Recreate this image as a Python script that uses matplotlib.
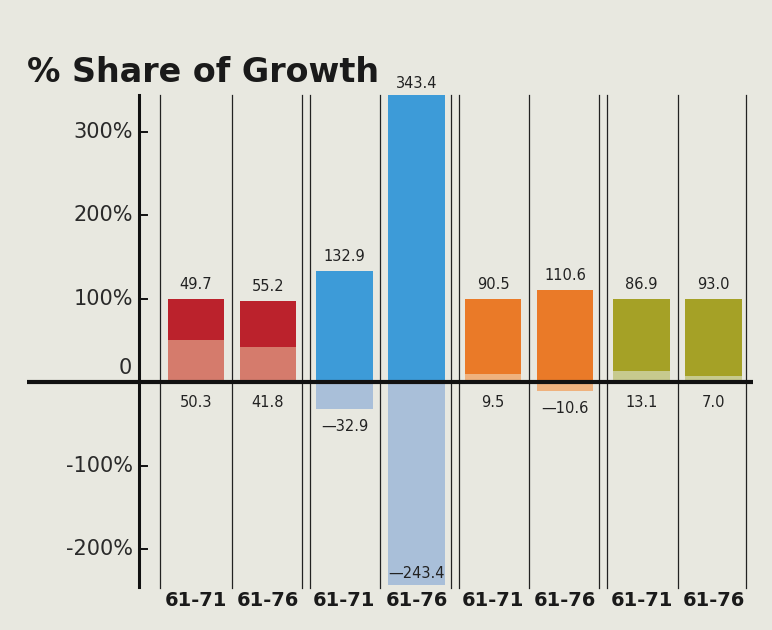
import matplotlib.pyplot as plt

# Data: top (dark) share and bottom (light) share for each period
periods = ['61-71', '61-76', '61-71', '61-76', '61-71', '61-76', '61-71', '61-76']
top_vals = [49.7, 55.2, 132.9, 343.4, 90.5, 110.6, 86.9, 93.0]
bottom_vals = [50.3, 41.8, -32.9, -243.4, 9.5, -10.6, 13.1, 7.0]
groups = [0, 0, 1, 1, 2, 2, 3, 3]
yticks = [300, 200, 100, 0, -100, -200]
ytick_labels = ['300%', '200%', '100%', '0', '-100%', '-200%']

dark_colors = ['#bb222c', '#3d9bd8', '#ea7a28', '#a5a126']
light_colors = ['#d57b6c', '#a9bfd9', '#efb27e', '#c7ca8e']
bg = '#e8e8e0'

# bar positions, with a small gap between groups
pos = [g * 0.06 + i for i, g in enumerate(groups)]

fig = plt.figure(figsize=(7.72, 6.3), dpi=100, facecolor=bg)
ax = fig.add_axes([0, 0, 1, 1])
ax.set_facecolor(bg)
ax.set_xlim(pos[0] - 2.717, pos[0] + 7.99)
ax.set_ylim(-297, 457.5)
ax.axis('off')

w = 0.78
for i in range(len(pos)):
    g = groups[i]
    t, b = top_vals[i], bottom_vals[i]
    if b >= 0:
        ax.bar(pos[i], b, width=w, color=light_colors[g], zorder=2)
        ax.bar(pos[i], t, bottom=b, width=w, color=dark_colors[g], zorder=2)
        top = b + t
        ax.annotate(f'{b:.1f}', (pos[i], 0), xytext=(0, -9), textcoords='offset points',
                    ha='center', va='top', fontsize=10.5, color='#222222')
    else:
        ax.bar(pos[i], t, width=w, color=dark_colors[g], zorder=2)
        ax.bar(pos[i], b, width=w, color=light_colors[g], zorder=2)
        top = t
        lab = '\u2014' + f'{-b:.1f}'
        if b < -200:
            ax.annotate(lab, (pos[i], b), xytext=(0, 3), textcoords='offset points',
                        ha='center', va='bottom', fontsize=10.5, color='#222222', zorder=3)
        else:
            ax.annotate(lab, (pos[i], b), xytext=(0, -7), textcoords='offset points',
                        ha='center', va='top', fontsize=10.5, color='#222222')
    ax.annotate(f'{t:.1f}', (pos[i], top), xytext=(0, 3 if top > 300 else 5),
                textcoords='offset points', ha='center', va='bottom',
                fontsize=10.5, color='#222222')
    # period label under each bar
    ax.text(pos[i], -262, periods[i], ha='center', va='center',
            fontsize=14, fontweight='bold', color='#1a1a1a')

# thin separator lines between bars, doubled between groups
seps = [pos[0] - 0.5]
for i in range(len(pos) - 1):
    mid = (pos[i] + pos[i + 1]) / 2
    if groups[i] != groups[i + 1]:
        seps += [mid - 0.055, mid + 0.055]
    else:
        seps.append(mid)
seps.append(pos[-1] + 0.45)
for s in seps:
    ax.plot([s, s], [344, -247], color='#222222', lw=0.9, zorder=1)

# y axis with ticks
xa = pos[0] - 0.79
ax.plot([xa, xa], [344, -246], color='#111111', lw=2.2, zorder=4)
for v, lab in zip(yticks, ytick_labels):
    if v != 0:
        ax.plot([xa, xa + 0.11], [v, v], color='#111111', lw=1.4, zorder=4)
        ax.text(xa - 0.08, v, lab, ha='right', va='center', fontsize=15, color='#2a2a2a')
    else:
        ax.text(xa - 0.1, 5, lab, ha='right', va='bottom', fontsize=15, color='#2a2a2a')

# zero line
ax.plot([pos[0] - 2.34, pos[-1] + 0.54], [0, 0], color='#111111', lw=3, zorder=5,
        solid_capstyle='butt')

fig.text(27 / 772, 1 - 82 / 630, '% Share of Growth', fontsize=24, fontweight='bold',
         color='#1a1a1a', ha='left', va='baseline')

fig.savefig('out.png', dpi=100, facecolor=bg)
